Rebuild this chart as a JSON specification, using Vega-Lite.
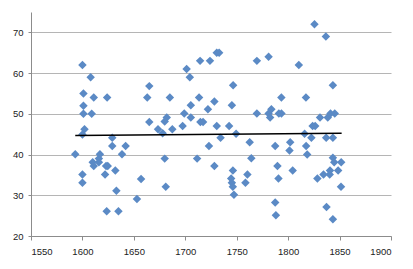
{
  "$schema": "https://vega.github.io/schema/vega-lite/v6.json",
  "width": 360,
  "height": 224,
  "autosize": {"type": "none"},
  "padding": {"left": 31, "top": 12, "right": 22, "bottom": 33},
  "background": "white",
  "config": {
    "view": {"stroke": null},
    "axis": {
      "labelFont": "Liberation Sans",
      "labelFontSize": 9.5,
      "labelColor": "#222222",
      "domainColor": "#8c8c8c",
      "tickColor": "#8c8c8c",
      "gridColor": "#b5b5b5",
      "title": null
    }
  },
  "datasets": {
    "points": [
      {"year": 1600, "value": 62}, {"year": 1608, "value": 59}, {"year": 1601, "value": 55},
      {"year": 1611, "value": 54}, {"year": 1624, "value": 54}, {"year": 1601, "value": 52},
      {"year": 1601, "value": 50}, {"year": 1609, "value": 50}, {"year": 1602, "value": 46.2},
      {"year": 1600, "value": 44.9}, {"year": 1593, "value": 40.1}, {"year": 1600, "value": 35.1},
      {"year": 1600, "value": 33.1}, {"year": 1610, "value": 38.1}, {"year": 1611, "value": 37.2},
      {"year": 1616, "value": 39}, {"year": 1617, "value": 40.1}, {"year": 1616, "value": 38.1},
      {"year": 1623, "value": 37.2}, {"year": 1624.6, "value": 37.2}, {"year": 1622, "value": 35.1},
      {"year": 1632, "value": 36.1}, {"year": 1633, "value": 31.1}, {"year": 1623.6, "value": 26.1},
      {"year": 1635, "value": 26.1}, {"year": 1629, "value": 42.1}, {"year": 1629, "value": 44.1},
      {"year": 1642, "value": 42.1}, {"year": 1638.5, "value": 40.1}, {"year": 1653, "value": 29.1},
      {"year": 1657, "value": 34}, {"year": 1680, "value": 39}, {"year": 1681, "value": 32.1},
      {"year": 1711.5, "value": 39}, {"year": 1723, "value": 42.1}, {"year": 1665, "value": 56.8},
      {"year": 1663, "value": 54}, {"year": 1685, "value": 54}, {"year": 1665, "value": 48},
      {"year": 1682, "value": 49.1}, {"year": 1680, "value": 48.1}, {"year": 1673.5, "value": 46.2},
      {"year": 1678, "value": 45.2}, {"year": 1687.4, "value": 46.2}, {"year": 1697.4, "value": 47},
      {"year": 1699, "value": 50.1}, {"year": 1705.4, "value": 49.1}, {"year": 1705.4, "value": 52.1},
      {"year": 1713.4, "value": 54}, {"year": 1714.7, "value": 48}, {"year": 1717.3, "value": 48},
      {"year": 1722, "value": 51.1}, {"year": 1728.3, "value": 53}, {"year": 1730.6, "value": 47},
      {"year": 1734.3, "value": 44.1}, {"year": 1730.6, "value": 65}, {"year": 1732.9, "value": 65},
      {"year": 1714.4, "value": 63}, {"year": 1724, "value": 63}, {"year": 1701.3, "value": 61},
      {"year": 1704.4, "value": 59}, {"year": 1746.5, "value": 57}, {"year": 1769.6, "value": 63},
      {"year": 1745.3, "value": 52.1}, {"year": 1769.6, "value": 50.1}, {"year": 1742.6, "value": 47},
      {"year": 1749.4, "value": 45.1}, {"year": 1825.6, "value": 72}, {"year": 1836.7, "value": 69},
      {"year": 1781, "value": 64}, {"year": 1810.4, "value": 62}, {"year": 1843.5, "value": 57},
      {"year": 1793.4, "value": 54}, {"year": 1817.3, "value": 54}, {"year": 1781, "value": 50.1},
      {"year": 1783.7, "value": 51.1}, {"year": 1782.5, "value": 49.1}, {"year": 1791, "value": 50.1},
      {"year": 1793.5, "value": 50.1}, {"year": 1831, "value": 49.1}, {"year": 1838.5, "value": 49.1},
      {"year": 1841.2, "value": 50.1}, {"year": 1845.3, "value": 50.1}, {"year": 1823.8, "value": 47},
      {"year": 1826.3, "value": 47}, {"year": 1816, "value": 45.1}, {"year": 1762.6, "value": 43},
      {"year": 1787.4, "value": 42.1}, {"year": 1802, "value": 43}, {"year": 1801.3, "value": 41},
      {"year": 1822.6, "value": 44.1}, {"year": 1817.5, "value": 42.1}, {"year": 1837, "value": 44.1},
      {"year": 1843.5, "value": 44.1}, {"year": 1764.2, "value": 39.1}, {"year": 1728.3, "value": 37.2},
      {"year": 1746.3, "value": 36.1}, {"year": 1744.6, "value": 34.1}, {"year": 1745.3, "value": 33.1},
      {"year": 1746.2, "value": 32.1}, {"year": 1747.3, "value": 30.1}, {"year": 1760.4, "value": 35.1},
      {"year": 1758.5, "value": 33.1}, {"year": 1818.5, "value": 40}, {"year": 1789.6, "value": 37.2},
      {"year": 1790.6, "value": 34.1}, {"year": 1804.4, "value": 36.1}, {"year": 1787.4, "value": 28.2},
      {"year": 1788.1, "value": 25.1}, {"year": 1843.5, "value": 39.2}, {"year": 1844.8, "value": 38.1},
      {"year": 1851.6, "value": 38.1}, {"year": 1840.7, "value": 36.1}, {"year": 1848.6, "value": 36.1},
      {"year": 1834.4, "value": 35.1}, {"year": 1840.4, "value": 35.1}, {"year": 1828.4, "value": 34.1},
      {"year": 1851.4, "value": 32.1}, {"year": 1837.3, "value": 27.1}, {"year": 1843.5, "value": 24.1}
    ],
    "trend": [
      {"year": 1593, "value": 44.7},
      {"year": 1852, "value": 45.2}
    ]
  },
  "layer": [
    {
      "data": {"name": "points"},
      "mark": {"type": "point", "shape": "diamond", "filled": true, "size": 72, "color": "#5b8ac5", "opacity": 1},
      "encoding": {
        "x": {
          "field": "year", "type": "quantitative",
          "scale": {"domain": [1550, 1900], "nice": false, "zero": false},
          "axis": {"values": [1550, 1600, 1650, 1700, 1750, 1800, 1850, 1900], "format": "d", "grid": false, "tickSize": 4, "labelPadding": 6}
        },
        "y": {
          "field": "value", "type": "quantitative",
          "scale": {"domain": [20, 75], "nice": false, "zero": false},
          "axis": {"values": [20, 30, 40, 50, 60, 70], "format": "d", "grid": true, "tickSize": 3, "labelPadding": 5}
        }
      }
    },
    {
      "data": {"name": "trend"},
      "mark": {"type": "line", "color": "#000000", "strokeWidth": 1.5},
      "encoding": {
        "x": {"field": "year", "type": "quantitative"},
        "y": {"field": "value", "type": "quantitative"}
      }
    }
  ]
}
